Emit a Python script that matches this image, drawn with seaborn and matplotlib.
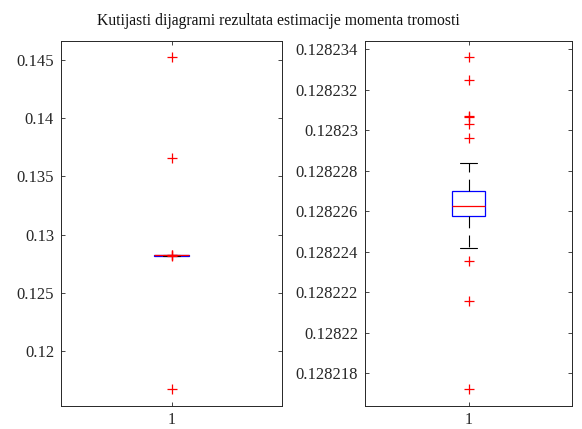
import matplotlib
matplotlib.use("Agg")
import matplotlib.pyplot as plt
import seaborn as sns
import numpy as np
from matplotlib.ticker import FuncFormatter

title = "Kutijasti dijagrami rezultata estimacije momenta tromosti"

left_values = [0.11676, 0.12816, 0.12819, 0.12820, 0.128203, 0.128206, 0.128208,
               0.12821, 0.128211, 0.128212, 0.128213, 0.128214, 0.128215, 0.128216,
               0.128217, 0.128218, 0.128219, 0.12822, 0.128221, 0.128222, 0.128223,
               0.128224, 0.128226, 0.128228, 0.12823, 0.12827, 0.12829, 0.13661, 0.14520]

right_values = [0.12821722, 0.12822157, 0.12822354, 0.12822416, 0.12822480, 0.12822530,
                0.12822560, 0.12822574, 0.12822585, 0.12822595, 0.12822603, 0.12822610,
                0.12822616, 0.12822622, 0.12822627, 0.12822635, 0.12822645, 0.12822655,
                0.12822668, 0.12822680, 0.12822690, 0.12822699, 0.12822838, 0.12822962,
                0.12823029, 0.12823064, 0.12823071, 0.12823245, 0.12823359]

left_ticks = [0.12, 0.125, 0.13, 0.135, 0.14, 0.145]
right_ticks = [0.128218, 0.12822, 0.128222, 0.128224, 0.128226, 0.128228,
               0.12823, 0.128232, 0.128234]
x_labels = ["1"]

sns.set_style("white")
plt.rcParams["font.family"] = ["Liberation Serif", "DejaVu Serif"]
plt.rcParams["lines.scale_dashes"] = False

fig = plt.figure(figsize=(5.82, 4.29), dpi=100)
ax1 = fig.add_axes([61/582, 1-405.7/429, 221/582, 365/429])
ax2 = fig.add_axes([365/582, 1-405.7/429, 207/582, 365/429])

fmt = FuncFormatter(lambda v, p: "%g" % round(v, 9))

for ax, vals, ticks in [(ax1, left_values, left_ticks), (ax2, right_values, right_ticks)]:
    sns.boxplot(y=vals, ax=ax, width=0.155, whis=1.5,
                boxprops=dict(facecolor="none", edgecolor="#0000ff", linewidth=0.9),
                medianprops=dict(color="#ff0000", linewidth=0.9),
                whiskerprops=dict(color="black", linewidth=0.8, linestyle=(0, (8.5, 5.2))),
                capprops=dict(color="black", linewidth=0.8),
                flierprops=dict(marker="+", markeredgecolor="#ff0000", markerfacecolor="none",
                                markersize=6.5, markeredgewidth=0.9, linestyle="none"))
    vmin, vmax = min(vals), max(vals)
    pad = 0.05 * (vmax - vmin)
    ax.set_ylim(vmin - pad, vmax + pad)
    ax.set_xlim(-0.5, 0.5)
    ax.set_yticks(ticks)
    ax.yaxis.set_major_formatter(fmt)
    ax.set_xticks([0])
    ax.set_xticklabels(x_labels)
    ax.set_ylabel("")
    ax.set_xlabel("")
    ax.tick_params(direction="in", length=3, width=0.6, top=True, right=True,
                   left=True, bottom=True, labelsize=12, colors="#262626", pad=5)
    ax.tick_params(axis="x", pad=4.5, labelsize=11.5)
    for s in ax.spines.values():
        s.set_visible(True)
        s.set_color("#262626")
        s.set_linewidth(0.7)

fig.text(278/582, 1-21/429, title, ha="center", va="center", fontsize=11.3, color="#111111")

fig.savefig("out.png", dpi=100)
